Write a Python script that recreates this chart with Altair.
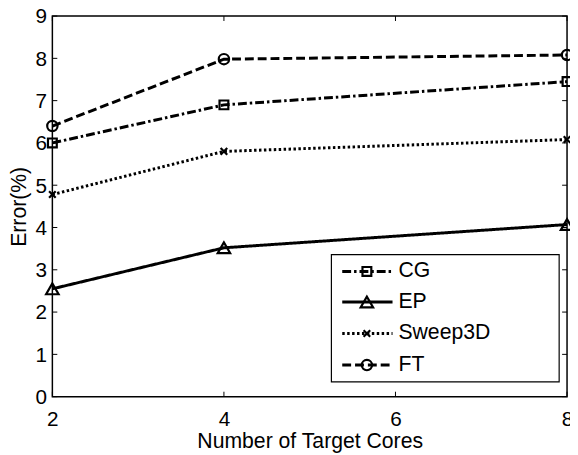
import altair as alt
import pandas as pd

cores = [2, 4, 8]
series_names = ["CG", "EP", "Sweep3D", "FT"]
cg = [6.0, 6.9, 7.45]
ep = [2.55, 3.52, 4.07]
sweep = [4.78, 5.8, 6.08]
ft = [6.4, 7.98, 8.08]
values = {"CG": cg, "EP": ep, "Sweep3D": sweep, "FT": ft}

x_ticks = [2, 4, 6, 8]
y_ticks = [0, 1, 2, 3, 4, 5, 6, 7, 8, 9]

W, H = 522, 386
FONT = "Liberation Sans"
FS = 21
FS_T = 21.5

styles = {
    "CG": dict(dash=[9, 3, 2.5, 3], shape="square", size=80),
    "EP": dict(dash=[1, 0], shape="triangle-up", size=160),
    "Sweep3D": dict(dash=[2.5, 2.5], shape="M-1,-1L1,1M-1,1L1,-1", size=45),
    "FT": dict(dash=[9, 4], shape="circle", size=110),
}

xs = alt.Scale(domain=[2, 8], nice=False)
ys = alt.Scale(domain=[0, 9], nice=False)

x_axis = alt.Axis(values=x_ticks, ticks=False, domain=False, grid=False, labelPadding=12,
                  labelFont=FONT, labelFontSize=FS, labelColor="black", labelFlush=False,
                  title="Number of Target Cores", titleFont=FONT, titleFontSize=FS_T,
                  titleFontWeight="normal", titleColor="black", titlePadding=2)
y_axis = alt.Axis(values=y_ticks, ticks=False, domain=False, grid=False, labelPadding=6,
                  labelOffset=1,
                  labelFont=FONT, labelFontSize=FS, labelColor="black", labelFlush=False,
                  title="Error(%)", titleFont=FONT, titleFontSize=FS_T,
                  titleFontWeight="normal", titleColor="black", titlePadding=5)


def X(field):
    return alt.X(field, scale=xs, axis=x_axis)


def Y(field):
    return alt.Y(field, scale=ys, axis=y_axis)


layers = []
for name in series_names:
    df = pd.DataFrame({"cores": cores, "err": values[name], "series": name})
    st = styles[name]
    line = alt.Chart(df).mark_line(color="black", strokeWidth=3, strokeDash=st["dash"]).encode(
        x=X("cores:Q"), y=Y("err:Q"))
    pts = alt.Chart(df).mark_point(color="black", filled=False, strokeWidth=2.2, shape=st["shape"],
                                   size=st["size"], opacity=1).encode(x=X("cores:Q"), y=Y("err:Q"))
    layers += [line, pts]

# inward ticks
xt = pd.DataFrame({"t": x_ticks})
yt = pd.DataFrame({"t": y_ticks})
TL = 5
tick_style = dict(color="black", strokeWidth=1)
layers.append(alt.Chart(xt).mark_rule(**tick_style).encode(
    x=X("t:Q"), y=alt.value(H), y2=alt.value(H - TL)))
layers.append(alt.Chart(xt).mark_rule(**tick_style).encode(
    x=X("t:Q"), y=alt.value(0), y2=alt.value(TL)))
layers.append(alt.Chart(yt).mark_rule(**tick_style).encode(
    y=Y("t:Q"), x=alt.value(0), x2=alt.value(TL)))
layers.append(alt.Chart(yt).mark_rule(**tick_style).encode(
    y=Y("t:Q"), x=alt.value(W), x2=alt.value(W - TL)))

# legend box
box_df = pd.DataFrame({"k": [0]})
layers.append(alt.Chart(box_df).mark_rect(fill="white", stroke="black", strokeWidth=1.2).encode(
    x=alt.value(283), x2=alt.value(514), y=alt.value(242), y2=alt.value(371)))
leg_y = [259, 290, 322, 354]
for name, ly in zip(series_names, leg_y):
    st = styles[name]
    ldf = pd.DataFrame({"series": [name]})
    layers.append(alt.Chart(ldf).mark_rule(color="black", strokeWidth=3, strokeDash=st["dash"]).encode(
        x=alt.value(294), x2=alt.value(345), y=alt.value(ly)))
    layers.append(alt.Chart(ldf).mark_point(color="black", filled=False, strokeWidth=2.2, shape=st["shape"],
                                            size=st["size"], opacity=1).encode(
        x=alt.value(319), y=alt.value(ly)))
    layers.append(alt.Chart(ldf).mark_text(align="left", baseline="middle", font=FONT, fontSize=FS_T,
                                           color="black").encode(
        x=alt.value(351), y=alt.value(ly), text="series:N"))

chart = alt.layer(*layers).properties(
    width=W, height=H,
    autosize=alt.AutoSizeParams(type="none"),
    padding={"left": 45, "top": 5, "right": 3, "bottom": 56},
).configure(background="white").configure_view(stroke="black", strokeWidth=1.5)

chart.save("out.html", embed_options={"renderer": "svg", "actions": False})
